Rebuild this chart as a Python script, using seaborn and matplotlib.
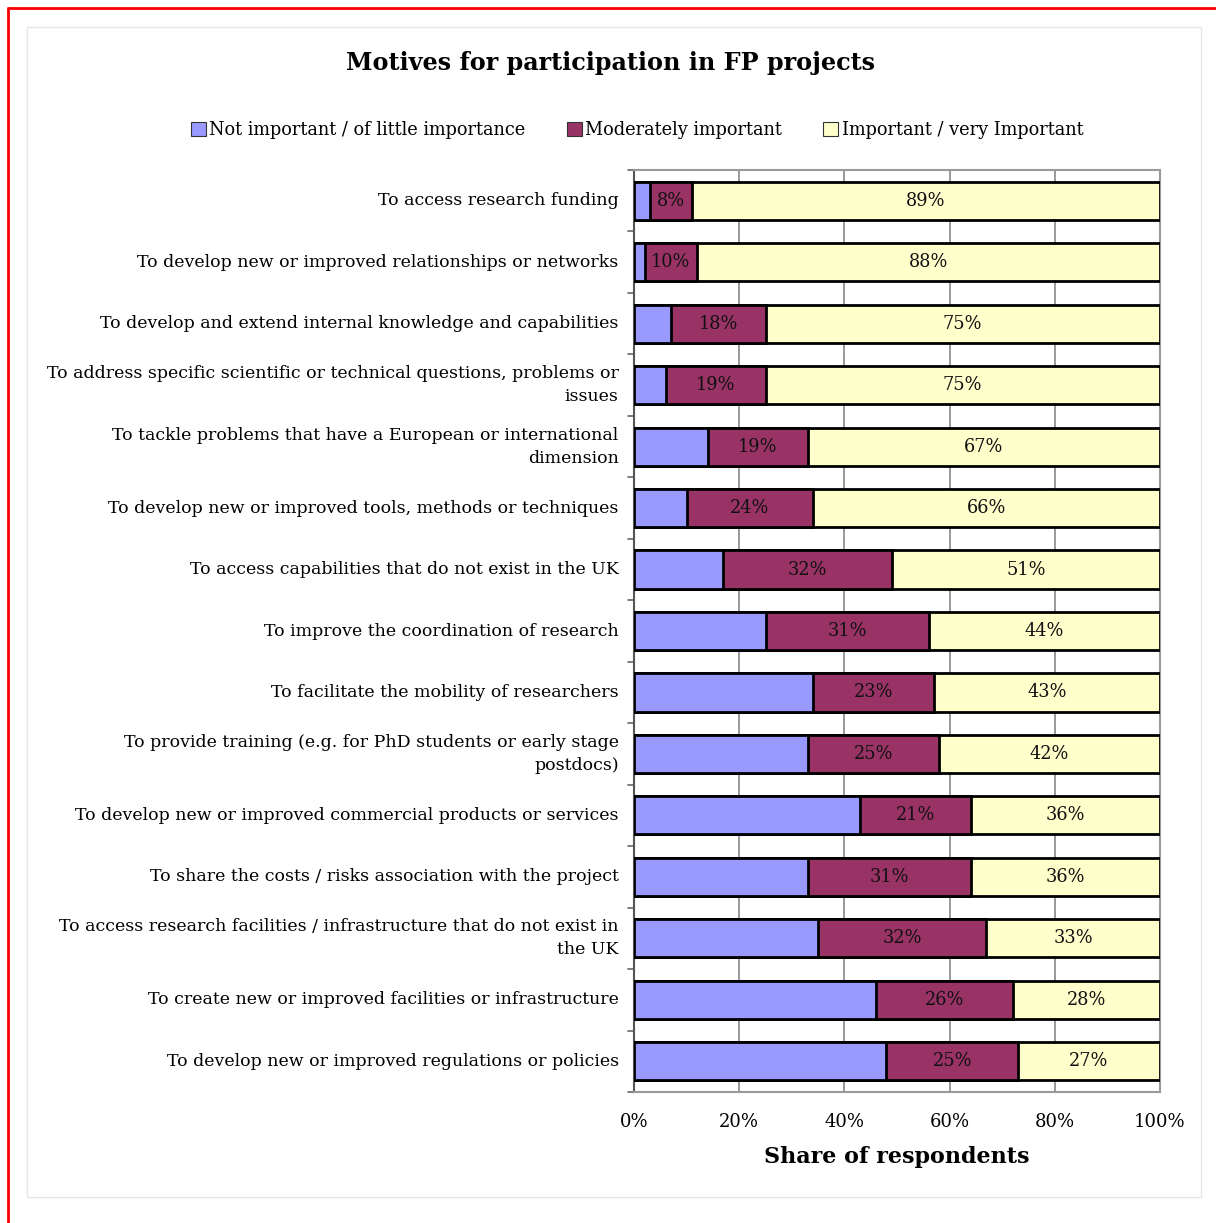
import matplotlib
matplotlib.use("Agg")
import matplotlib.pyplot as plt
from matplotlib.patches import Rectangle, Patch
from matplotlib.lines import Line2D
import numpy as np
import pandas as pd
import seaborn as sns

categories = [
    "To access research funding",
    "To develop new or improved relationships or networks",
    "To develop and extend internal knowledge and capabilities",
    "To address specific scientific or technical questions, problems or\nissues",
    "To tackle problems that have a European or international\ndimension",
    "To develop new or improved tools, methods or techniques",
    "To access capabilities that do not exist in the UK",
    "To improve the coordination of research",
    "To facilitate the mobility of researchers",
    "To provide training (e.g. for PhD students or early stage\npostdocs)",
    "To develop new or improved commercial products or services",
    "To share the costs / risks association with the project",
    "To access research facilities / infrastructure that do not exist in\nthe UK",
    "To create new or improved facilities or infrastructure",
    "To develop new or improved regulations or policies",
]
not_important = [3, 2, 7, 6, 14, 10, 17, 25, 34, 33, 43, 33, 35, 46, 48]
moderately = [8, 10, 18, 19, 19, 24, 32, 31, 23, 25, 21, 31, 32, 26, 25]
important = [89, 88, 75, 75, 67, 66, 51, 44, 43, 42, 36, 36, 33, 28, 27]
series_names = ["Not important / of little importance",
                "Moderately important",
                "Important / very Important"]
colors = ["#9999FF", "#993366", "#FFFFCC"]
xticks = [0, 20, 40, 60, 80, 100]

df = pd.DataFrame({"motive": categories, "low": not_important,
                   "mid": moderately, "high": important})
df["cum_low"] = df["low"]
df["cum_mid"] = df["low"] + df["mid"]
df["cum_high"] = df["low"] + df["mid"] + df["high"]

sns.set_theme(style="white")
plt.rcParams["font.family"] = ["DejaVu Serif"]
plt.rcParams["text.color"] = "black"
plt.rcParams["xtick.color"] = "black"
plt.rcParams["ytick.color"] = "black"
plt.rcParams["axes.labelcolor"] = "black"

fig = plt.figure(figsize=(12.16, 12.23), dpi=100)
ax = fig.add_axes([634 / 1216, 1 - 1092 / 1223, 526 / 1216, 922 / 1223])

# stacked bars drawn back to front as cumulative totals
for col, color in zip(["cum_high", "cum_mid", "cum_low"], colors[::-1]):
    sns.barplot(data=df, y="motive", x=col, orient="h", color=color,
                edgecolor="black", linewidth=2, width=0.62, saturation=1,
                ax=ax, zorder=3)

# segment value labels
for i, row in df.iterrows():
    ax.text(row["low"] + row["mid"] / 2, i, f"{row['mid']}%", ha="center",
            va="center", fontsize=12.8, color="#111111", zorder=5)
    ax.text(row["cum_mid"] + row["high"] / 2, i, f"{row['high']}%",
            ha="center", va="center", fontsize=12.8, color="#111111", zorder=5)

ax.set_xlim(0, 100)
ax.set_ylim(len(categories) - 0.5, -0.5)
ax.set_xticks(xticks)
ax.set_xticklabels([f"{t}%" for t in xticks], fontsize=13)
ax.tick_params(axis="x", direction="out", length=7, width=1.2,
               color="#666666", pad=8)
ax.tick_params(axis="y", length=0, pad=11, labelsize=12.5)
for lbl in ax.get_yticklabels():
    lbl.set_linespacing(1.45)
    lbl.set_verticalalignment("center")
ax.set_ylabel("")
ax.set_xlabel("Share of respondents", fontsize=16, fontweight="bold",
              labelpad=11)

# y tick marks between categories
for b in np.arange(-0.5, len(categories), 1.0):
    ax.add_line(Line2D([-0.012, 0], [b, b], transform=ax.get_yaxis_transform(),
                       color="#666666", lw=1.2, clip_on=False))

ax.grid(axis="x", color="#888888", lw=1.2, zorder=0)
ax.grid(axis="y", visible=False)
for side in ["top", "right", "bottom"]:
    ax.spines[side].set_color("#999999")
    ax.spines[side].set_linewidth(1.5)
ax.spines["left"].set_color("#555555")
ax.spines["left"].set_linewidth(1.5)
ax.set_axisbelow(True)

handles = [Patch(facecolor=c, edgecolor="#333333", lw=0.8) for c in colors]
fig.legend(handles, series_names, loc="center", ncol=3, frameon=False,
           bbox_to_anchor=(637 / 1216, 1 - 130 / 1223), fontsize=12.8,
           handlelength=0.85, handleheight=0.85, handletextpad=0.2,
           columnspacing=2.3)

fig.text(611 / 1216, 1 - 63 / 1223, "Motives for participation in FP projects",
         ha="center", va="center", fontsize=17.2, fontweight="bold")

# page frame
fig.add_artist(Rectangle((27 / 1216, 1 - 1197 / 1223), 1174 / 1216,
                         1170 / 1223, transform=fig.transFigure,
                         fill=False, edgecolor="#e6e6e6", lw=1))
fig.add_artist(Line2D([8 / 1216, 8 / 1216], [0, 1 - 8 / 1223],
                      transform=fig.transFigure, color="red", lw=2))
fig.add_artist(Line2D([8 / 1216, 1], [1 - 8 / 1223, 1 - 8 / 1223],
                      transform=fig.transFigure, color="red", lw=2))

fig.savefig("out.png", dpi=100)
